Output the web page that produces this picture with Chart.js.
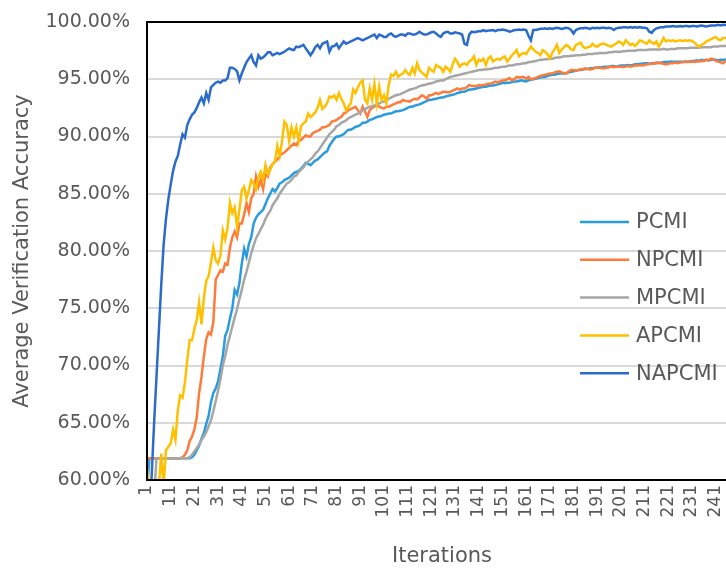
<!DOCTYPE html>
<html>
<head>
<meta charset="utf-8">
<script src="https://cdn.jsdelivr.net/npm/chart.js@4.4.1/dist/chart.umd.min.js"></script>
<style>
  html, body { margin: 0; padding: 0; overflow: hidden; background: #fff; }
  #wrap { width: 760px; height: 569px; }
</style>
</head>
<body>
<div id="wrap"><canvas id="c" width="760" height="569"></canvas></div>
<script>
// Iteration numbers on the x axis (1 … 250)
const iterations = Array.from({ length: 250 }, (_, i) => String(i + 1));

const seriesNames = ['PCMI', 'NPCMI', 'MPCMI', 'APCMI', 'NAPCMI'];
const seriesColors = ['#2B9BE0', '#FF7B3A', '#A6A6A6', '#FFC000', '#2A6BCB'];

// Average verification accuracy (%) per iteration
const pcmi = [
  59, 61.9, 61.9, 61.9, 61.9, 61.9, 61.9, 61.9, 61.9, 61.9,
  61.9, 61.9, 61.9, 61.9, 61.9, 61.9, 61.9, 61.9, 61.9, 62.0,
  62.2, 62.6, 63.0, 63.6, 64.1, 64.9, 65.6, 66.8, 67.6, 68.0,
  68.6, 69.7, 70.8, 72.6, 73.1, 74.1, 75.0, 76.6, 76.2, 77.2,
  78.9, 80.2, 79.5, 80.6, 81.2, 82.4, 82.9, 83.2, 83.4, 83.6,
  84.1, 84.6, 85.0, 85.4, 85.2, 85.5, 85.9, 86.0, 86.2, 86.3,
  86.4, 86.6, 86.8, 86.9, 87.0, 87.2, 87.4, 87.7, 87.6, 87.5,
  87.7, 87.9, 88.0, 88.2, 88.4, 88.6, 88.7, 89.2, 89.5, 89.8,
  90.0, 90.0, 90.1, 90.2, 90.4, 90.6, 90.6, 90.7, 90.85, 90.9,
  91.0, 91.2, 91.2, 91.3, 91.45, 91.5, 91.6, 91.7, 91.75, 91.8,
  91.9, 91.95, 92.0, 92.0, 92.1, 92.2, 92.2, 92.25, 92.3, 92.4,
  92.5, 92.6, 92.6, 92.7, 92.75, 92.8, 92.9, 93.0, 93.1, 93.2,
  93.2, 93.25, 93.3, 93.35, 93.4, 93.4, 93.5, 93.55, 93.6, 93.65,
  93.7, 93.8, 93.85, 93.9, 93.9, 94.0, 94.1, 94.1, 94.15, 94.2,
  94.25, 94.3, 94.35, 94.35, 94.4, 94.45, 94.45, 94.5, 94.55, 94.6,
  94.7, 94.65, 94.7, 94.7, 94.75, 94.8, 94.8, 94.85, 94.9, 94.85,
  94.8, 94.9, 94.95, 95.0, 95.05, 95.1, 95.15, 95.2, 95.2, 95.3,
  95.35, 95.4, 95.4, 95.45, 95.5, 95.5, 95.5, 95.55, 95.6, 95.65,
  95.7, 95.75, 95.8, 95.8, 95.85, 95.9, 95.9, 95.95, 95.95, 96.0,
  96.0, 96.05, 96.05, 96.1, 96.1, 96.1, 96.15, 96.15, 96.1, 96.15,
  96.2, 96.2, 96.2, 96.25, 96.2, 96.25, 96.3, 96.3, 96.35, 96.35,
  96.4, 96.4, 96.35, 96.4, 96.4, 96.45, 96.4, 96.45, 96.5, 96.5,
  96.5, 96.55, 96.5, 96.55, 96.5, 96.55, 96.5, 96.55, 96.5, 96.55,
  96.6, 96.6, 96.65, 96.6, 96.7, 96.65, 96.7, 96.65, 96.7, 96.7,
  96.7, 96.65, 96.7, 96.7, 96.7, 96.75, 96.7, 96.75, 96.7, 96.75
];

const npcmi = [
  61.9, 61.9, 61.9, 61.9, 61.9, 61.9, 61.9, 61.9, 61.9, 61.9,
  61.9, 61.9, 61.9, 61.9, 61.9, 62.0, 62.2, 62.6, 63.4, 63.8,
  64.4, 65.5, 67.6, 69.0, 70.8, 72.3, 72.9, 72.7, 73.8, 77.5,
  77.9, 78.3, 78.2, 78.9, 78.8, 80.3, 81.2, 81.7, 81.2, 82.4,
  82.4, 83.2, 84.2, 83.4, 84.6, 85.0, 86.5, 85.6, 86.2, 85.4,
  86.7, 86.5, 87.3, 87.6, 87.8, 88.0, 88.3, 88.5, 88.6, 88.8,
  89.0, 89.2, 89.4, 89.25, 89.6, 89.7, 89.9, 90.1, 90.0, 90.0,
  90.3, 90.4, 90.5, 90.6, 90.8, 90.8, 90.9, 91.0, 91.3, 91.35,
  91.45, 91.6, 91.7, 92.0, 92.1, 92.3, 92.4, 92.5, 92.6, 92.3,
  92.0, 92.6, 92.2, 91.7, 92.3, 92.5, 92.6, 92.75, 92.6, 92.5,
  92.45, 92.6, 92.6, 92.7, 92.8, 92.9, 93.0, 93.0, 93.2, 93.1,
  93.1, 93.05, 93.2, 93.3, 93.25, 93.4, 93.6, 93.5, 93.3, 93.6,
  93.6, 93.7, 93.8, 93.7, 93.8, 93.9, 93.9, 93.85, 93.9, 94.0,
  94.1, 94.2, 94.1, 94.2, 94.2, 94.3, 94.5, 94.4, 94.4, 94.4,
  94.5, 94.45, 94.5, 94.55, 94.6, 94.6, 94.7, 94.8, 94.75, 94.8,
  94.9, 94.9, 95.0, 95.1, 94.9, 95.0, 95.2, 95.15, 95.2, 95.2,
  95.05, 95.2, 95.0, 95.05, 95.1, 95.2, 95.3, 95.35, 95.4, 95.45,
  95.5, 95.5, 95.6, 95.65, 95.7, 95.6, 95.55, 95.5, 95.7, 95.8,
  95.8, 95.75, 95.8, 95.85, 95.9, 95.95, 95.9, 95.85, 95.9, 96.0,
  96.0, 96.0, 95.95, 95.95, 96.0, 96.05, 96.1, 96.05, 96.1, 96.1,
  96.1, 96.05, 96.1, 96.15, 96.1, 96.15, 96.2, 96.2, 96.25, 96.2,
  96.25, 96.3, 96.3, 96.4, 96.35, 96.4, 96.45, 96.4, 96.35, 96.3,
  96.35, 96.4, 96.4, 96.45, 96.4, 96.45, 96.5, 96.5, 96.55, 96.5,
  96.55, 96.5, 96.55, 96.55, 96.6, 96.6, 96.7, 96.65, 96.8, 96.75,
  96.6, 96.55, 96.5, 96.4, 96.55, 96.6, 96.6, 96.65, 96.7, 96.7
];

const mpcmi = [
  58.5, 58.5, 58.5, 58.5, 61.9, 61.9, 61.9, 61.9, 61.9, 61.9,
  61.9, 61.9, 61.9, 61.9, 61.9, 61.9, 61.9, 61.9, 62.0, 62.2,
  62.5, 62.8, 63.1, 63.5, 63.8, 64.2, 64.7, 65.2, 66.0, 66.9,
  67.8, 68.8, 70.0, 70.8, 71.8, 72.6, 73.4, 74.2, 74.9, 75.8,
  76.6, 77.5, 78.2, 79.0, 79.8, 80.5, 81.1, 81.5, 81.9, 82.3,
  82.8, 83.2, 83.5, 84.0, 84.3, 84.6, 85.0, 85.3, 85.6, 85.9,
  86.0, 86.2, 86.5, 86.6, 86.9, 87.1, 87.3, 87.6, 87.8, 88.0,
  88.2, 88.5, 88.7, 89.0, 89.3, 89.6, 89.9, 90.2, 90.4, 90.6,
  90.9, 91.0, 91.2, 91.3, 91.4, 91.6, 91.7, 91.8, 91.9, 92.0,
  92.1, 92.3, 92.4, 92.5, 92.6, 92.65, 92.7, 92.8, 92.9, 93.0,
  93.05, 93.15, 93.3, 93.4, 93.5, 93.6, 93.65, 93.7, 93.8, 93.9,
  94.0, 94.1, 94.15, 94.2, 94.3, 94.4, 94.45, 94.5, 94.55, 94.6,
  94.65, 94.7, 94.8, 94.85, 94.9, 94.9, 95.0, 95.1, 95.2, 95.25,
  95.3, 95.35, 95.4, 95.45, 95.5, 95.55, 95.6, 95.65, 95.7, 95.75,
  95.8, 95.8, 95.85, 95.85, 95.9, 95.9, 95.95, 96.0, 96.0, 96.05,
  96.1, 96.1, 96.15, 96.2, 96.2, 96.25, 96.3, 96.3, 96.35, 96.4,
  96.4, 96.5, 96.5, 96.55, 96.6, 96.65, 96.7, 96.7, 96.75, 96.75,
  96.8, 96.8, 96.85, 96.9, 96.9, 96.95, 97.0, 97.0, 97.0, 97.05,
  97.05, 97.1, 97.1, 97.1, 97.15, 97.15, 97.2, 97.2, 97.2, 97.25,
  97.25, 97.3, 97.3, 97.3, 97.3, 97.35, 97.35, 97.4, 97.4, 97.4,
  97.4, 97.45, 97.45, 97.5, 97.5, 97.5, 97.5, 97.55, 97.55, 97.55,
  97.55, 97.55, 97.6, 97.6, 97.6, 97.6, 97.6, 97.6, 97.65, 97.6,
  97.6, 97.65, 97.65, 97.65, 97.7, 97.7, 97.7, 97.7, 97.7, 97.75,
  97.75, 97.75, 97.75, 97.75, 97.8, 97.8, 97.8, 97.8, 97.8, 97.85,
  97.85, 97.85, 97.9, 97.9, 97.9, 97.9, 97.95, 97.95, 97.95, 98.0
];

const apcmi = [
  61.0, 59.0, 58.5, 58.5, 59.0, 59.5, 62.3, 59.5, 62.6, 62.9,
  63.2, 64.4, 63.5, 66.1, 67.4, 67.2, 68.5, 70.5, 72.2, 72.2,
  73.2, 74.0, 75.5, 73.6, 75.9, 77.4, 77.8, 79.0, 80.3, 79.2,
  78.9, 79.6, 81.8, 81.0, 82.0, 84.2, 83.3, 83.8, 82.1, 83.6,
  85.3, 85.6, 84.6, 85.3, 86.2, 85.9, 85.4, 86.4, 86.9, 86.2,
  87.5, 86.7, 87.1, 87.6, 87.8, 89.2, 88.3, 89.6, 91.3, 91.0,
  89.6, 90.8, 90.0, 90.8, 89.6, 90.9, 91.15, 91.3, 92.0, 91.7,
  91.9, 92.1, 92.5, 93.2, 92.4, 92.6, 92.9, 93.5, 93.4, 93.6,
  93.2, 93.8, 93.3, 92.9, 92.3, 92.6, 92.9, 94.1, 93.8, 94.3,
  94.7, 94.9, 93.2, 92.9, 94.2, 93.2, 94.6, 92.9, 94.35, 93.2,
  93.6, 92.9, 94.5, 95.4, 95.3, 95.65, 95.2, 95.4, 95.5, 95.8,
  95.5, 95.4, 96.0, 95.5, 96.4, 95.8, 95.6, 95.4, 95.2, 96.0,
  95.8, 95.65, 96.25, 96.1, 96.0, 95.65, 96.1, 95.9, 95.65, 96.3,
  96.8, 96.5, 96.1, 96.3, 96.4, 96.25, 96.55, 96.7, 97.0, 96.25,
  96.7, 96.6, 96.8, 96.25, 96.8, 97.0, 96.55, 96.7, 96.8, 96.7,
  96.9, 97.0, 96.55, 96.8, 97.1, 97.3, 97.55, 97.0, 97.2, 97.3,
  97.2, 97.55, 97.85, 97.6, 97.4, 97.3, 97.1, 97.55, 97.4, 97.2,
  96.8, 97.3, 97.6, 98.0, 97.3, 97.6, 97.8, 98.0, 97.85, 97.6,
  97.55, 98.0, 98.1, 98.2, 97.85, 97.7, 97.8, 97.85, 98.1, 97.9,
  97.85, 98.0, 98.1, 98.1, 98.0, 97.9, 97.85, 98.0, 98.1, 98.3,
  98.2, 98.0, 98.4, 98.2, 98.0, 98.1, 97.9, 98.1, 98.4, 98.3,
  98.2, 98.1, 98.4, 98.2, 98.1, 98.3, 97.85, 98.2, 98.6, 98.3,
  98.4, 98.35, 98.4, 98.3, 98.35, 98.4, 98.35, 98.4, 98.35, 98.4,
  98.35, 98.2, 98.0, 97.85, 98.0, 98.1, 98.3, 98.4, 98.5, 98.6,
  98.7, 98.5, 98.4, 98.6, 98.6, 98.65, 98.6, 98.7, 98.65, 98.7
];

const napcmi = [
  52, 56, 60.5, 65, 69, 73, 77, 80.5, 82.8, 84.5,
  85.8, 87.0, 87.8, 88.3, 89.3, 90.2, 89.9, 91.0, 91.5, 91.9,
  92.1, 92.5, 93.0, 93.4, 92.9, 93.8, 93.2, 94.3, 94.5, 94.7,
  94.8, 94.7, 94.9, 94.9, 95.1, 96.0, 96.0, 95.9, 95.7, 94.9,
  95.5, 96.0, 96.5, 96.8, 97.1, 96.5, 96.2, 97.1, 96.8, 96.9,
  97.1, 97.35, 97.35, 97.1, 97.2, 97.3, 97.2, 97.3, 97.4, 97.55,
  97.7, 97.6, 97.55, 97.85, 97.8, 97.9, 98.0, 97.7, 97.4, 97.1,
  97.4, 97.8, 98.0, 97.7, 98.1, 98.2, 98.3, 97.4, 97.85, 97.9,
  98.1, 97.7, 98.0, 98.3, 98.1, 98.2, 98.3, 98.4, 98.5, 98.6,
  98.5, 98.4, 98.5, 98.6, 98.7, 98.8, 98.9, 98.6, 98.9, 98.8,
  98.7, 98.7, 98.9, 99.0, 98.8, 98.7, 98.8, 98.9, 98.9, 98.8,
  99.0, 99.0, 98.9, 98.9, 99.0, 99.15, 99.0, 98.9, 98.9, 99.0,
  99.1, 99.15, 99.0, 98.8, 98.7, 99.0, 99.1, 99.15, 99.0, 99.0,
  99.1, 99.05, 99.0, 98.9, 98.1, 98.0, 98.9, 99.15, 99.1, 99.15,
  99.2, 99.2, 99.3, 99.2, 99.25, 99.25, 99.3, 99.2, 99.3, 99.3,
  99.35, 99.3, 99.25, 99.15, 99.2, 99.3, 99.3, 99.35, 99.3, 99.35,
  99.3, 98.8, 98.4, 99.3, 99.3, 99.35, 99.4, 99.4, 99.45, 99.4,
  99.45, 99.4, 99.45, 99.5, 99.45, 99.4, 99.45, 99.5, 99.45, 99.3,
  99.0, 99.3, 99.4, 99.45, 99.45, 99.5, 99.45, 99.4, 99.5, 99.45,
  99.5, 99.45, 99.5, 99.5, 99.45, 99.5, 99.45, 99.3, 99.45, 99.5,
  99.5, 99.55, 99.55, 99.5, 99.55, 99.5, 99.55, 99.5, 99.55, 99.5,
  99.5, 99.45, 99.15, 99.05, 99.3, 99.45, 99.5, 99.55, 99.55, 99.6,
  99.6, 99.6, 99.65, 99.6, 99.6, 99.65, 99.6, 99.65, 99.65, 99.6,
  99.65, 99.65, 99.6, 99.65, 99.7, 99.65, 99.6, 99.65, 99.7, 99.7,
  99.7, 99.75, 99.7, 99.75, 99.74, 99.75, 99.7, 99.75, 99.75, 99.75
];

const seriesValues = [pcmi, npcmi, mpcmi, apcmi, napcmi];

const TEXT = '#595959';
const FONT = '"DejaVu Sans", sans-serif';

// Black frame round the plot area plus the series key drawn inside it
const frameAndKey = {
  id: 'frameAndKey',
  afterDatasetsDraw(chart) {
    const { ctx, chartArea: a } = chart;
    ctx.save();
    ctx.strokeStyle = '#000';
    ctx.lineWidth = 2;
    ctx.strokeRect(a.left, a.top, a.right - a.left, a.bottom - a.top);

    const lineStart = a.left + 433, lineEnd = a.left + 482, textX = a.left + 489;
    const firstRow = a.top + 200, rowGap = 37.8;
    ctx.font = '21px ' + FONT;
    ctx.textBaseline = 'middle';
    ctx.textAlign = 'left';
    chart.data.datasets.forEach((ds, k) => {
      const y = firstRow + k * rowGap;
      ctx.strokeStyle = ds.borderColor;
      ctx.lineWidth = 2.5;
      ctx.beginPath();
      ctx.moveTo(lineStart, y);
      ctx.lineTo(lineEnd, y);
      ctx.stroke();
      ctx.fillStyle = TEXT;
      ctx.fillText(ds.label, textX, y + 1);
    });
    ctx.restore();
  }
};

// Fixed axis footprint: no extra room reserved for overhanging tick labels
const fixedBox = (size, key) => (s) => {
  s[key] = size;
  s.paddingTop = 0;
  s.paddingBottom = 0;
  s.paddingLeft = 0;
  s.paddingRight = 0;
};

const datasets = seriesNames.map((name, k) => ({
  label: name,
  data: seriesValues[k],
  borderColor: seriesColors[k],
  backgroundColor: seriesColors[k],
  borderWidth: 2.5,
  pointRadius: 0,
  tension: 0,
  fill: false,
  order: seriesNames.length - k
}));

new Chart(document.getElementById('c'), {
  type: 'line',
  data: { labels: iterations, datasets },
  options: {
    responsive: false,
    animation: false,
    devicePixelRatio: 1,
    layout: { autoPadding: false, padding: { left: 0, top: 22, right: 23, bottom: 0 } },
    plugins: { legend: { display: false }, tooltip: { enabled: false } },
    scales: {
      x: {
        grid: { display: false, drawTicks: false },
        border: { display: false },
        ticks: {
          autoSkip: false,
          maxRotation: 90,
          minRotation: 90,
          padding: 5,
          color: TEXT,
          font: { family: FONT, size: 17 },
          callback: (v, i) => (i % 10 === 0 ? iterations[i] : '')
        },
        title: {
          display: true,
          text: 'Iterations',
          color: TEXT,
          font: { family: FONT, size: 21 },
          padding: { top: 0, bottom: 0 }
        },
        afterFit: fixedBox(89, 'height')
      },
      y: {
        min: 60,
        max: 100,
        grid: { color: '#D9D9D9', lineWidth: 2, drawTicks: false },
        border: { display: false },
        ticks: {
          stepSize: 5,
          padding: 17,
          color: TEXT,
          font: { family: FONT, size: 19 },
          callback: (v) => v.toFixed(2) + '%'
        },
        title: {
          display: true,
          text: 'Average Verification Accuracy',
          color: TEXT,
          font: { family: FONT, size: 21 },
          padding: { top: 10, bottom: 0 }
        },
        afterFit: fixedBox(147, 'width')
      }
    }
  },
  plugins: [frameAndKey]
});
</script>
</body>
</html>
